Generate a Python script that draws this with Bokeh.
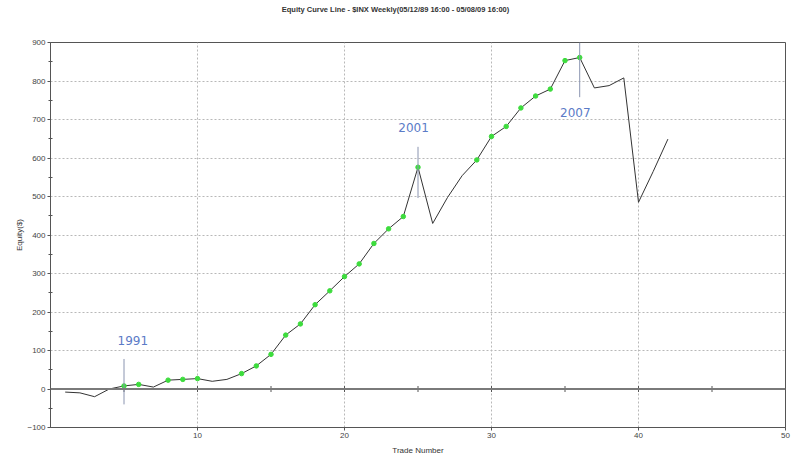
from bokeh.plotting import figure
from bokeh.models import ColumnDataSource, Span, FixedTicker, Range1d, Div
from bokeh.layouts import column
from bokeh.embed import file_html
from bokeh.resources import INLINE
from bokeh.core.properties import value
import math

# Data
title_text = "Equity Curve Line - $INX Weekly(05/12/89 16:00 - 05/08/09 16:00)"
trade = list(range(1, 43))
equity = [-8, -10, -20, 0, 8, 12, 5, 23, 25, 27,
          20, 25, 40, 60, 90, 140, 169, 219, 255, 292,
          325, 378, 416, 448, 576, 430, 497, 554, 595, 656,
          682, 730, 761, 779, 853, 861, 782, 788, 808, 485,
          565, 649]
marked = [5, 6, 8, 9, 10, 13, 14, 15, 16, 17, 18, 19, 20, 21, 22, 23, 24, 25,
          29, 30, 31, 32, 33, 34, 35, 36]

ann_x = [5, 25, 36]
ann_y0 = [-40, 496, 758]
ann_y1 = [78, 629, 900]
ann_label = ["1991", "2001", "2007"]
ann_label_x = [5.6, 24.7, 35.7]
ann_label_y = [125, 680, 719]

x_ticks = [10, 20, 30, 40, 50]
y_ticks = [-100, 0, 100, 200, 300, 400, 500, 600, 700, 800, 900]
zero_ticks = [5, 10, 15, 20, 25, 30, 35, 40, 45]

src = ColumnDataSource(dict(x=trade, y=equity))
mk = ColumnDataSource(dict(x=marked, y=[equity[trade.index(t)] for t in marked]))
ann = ColumnDataSource(dict(x=ann_x, y0=ann_y0, y1=ann_y1))
lab = ColumnDataSource(dict(x=ann_label_x, y=ann_label_y, t=ann_label))
zt = ColumnDataSource(dict(x=zero_ticks, y=[0] * len(zero_ticks)))

FONT = "Liberation Sans"
W = 791

head = Div(text=title_text, width=W, height=20, disable_math=True, margin=(0, 0, 0, 0),
           styles={"font-family": FONT, "font-size": "7.5px", "font-weight": "bold",
                   "color": "#333333", "text-align": "center", "width": f"{W}px",
                   "padding-top": "5px", "line-height": "9px"})

p = figure(frame_width=735, frame_height=385, output_backend="svg", toolbar_location=None,
           x_range=Range1d(0, 50), y_range=Range1d(-100, 900),
           min_border_left=50, min_border_right=6, min_border_top=22, min_border_bottom=8)

p.outline_line_color = "#555555"
p.background_fill_color = "white"
p.border_fill_color = "white"

p.xgrid.ticker = FixedTicker(ticks=x_ticks)
p.ygrid.ticker = FixedTicker(ticks=y_ticks)
for g in (p.xgrid, p.ygrid):
    g.grid_line_color = "#b8b8b8"
    g.grid_line_dash = "2 2"
    g.grid_line_width = 1

xa = p.xaxis[0]
xa.ticker = FixedTicker(ticks=x_ticks)
xa.axis_label = "Trade Number"
ya = p.yaxis[0]
ya.ticker = FixedTicker(ticks=y_ticks, minor_ticks=[v + 50 for v in y_ticks[:-1]])
ya.axis_label = "Equity($)"
for a in (xa, ya):
    a.major_label_text_font = FONT
    a.major_label_text_font_size = "8px"
    a.major_label_text_color = "#444444"
    a.axis_label_text_font = FONT
    a.axis_label_text_font_size = "8px"
    a.axis_label_text_font_style = "normal"
    a.axis_label_text_color = "#333333"
    a.axis_line_color = "#555555"
    a.major_tick_line_color = "#555555"
    a.minor_tick_line_color = "#555555"
    a.major_tick_in = 0
    a.major_tick_out = 3
    a.minor_tick_in = 2
    a.minor_tick_out = 2
    a.major_label_standoff = 2
xa.minor_tick_line_color = None
xa.axis_label_standoff = 5
ya.axis_label_standoff = 0

# zero line with small ticks
p.add_layout(Span(location=0, dimension="width", line_color="#7a7a7a", line_width=2))
p.scatter("x", "y", source=zt, marker="dash", angle=math.pi / 2, size=6,
          line_color="#555555", line_width=1)

p.line("x", "y", source=src, line_color="#333333", line_width=1)
p.scatter("x", "y", source=mk, size=4.5, fill_color="#3ddc3d", line_color="#3ddc3d")

p.segment(x0="x", y0="y0", x1="x", y1="y1", source=ann, line_color="#8a94b0", line_width=1)
p.text(x="x", y="y", text="t", source=lab, text_align="center", text_baseline="middle",
       text_font=value("DejaVu Sans"), text_font_size="12px", text_color="#5b7bc7")

layout = column(head, p, spacing=0)
open("out.html", "w").write(file_html(layout, INLINE))
